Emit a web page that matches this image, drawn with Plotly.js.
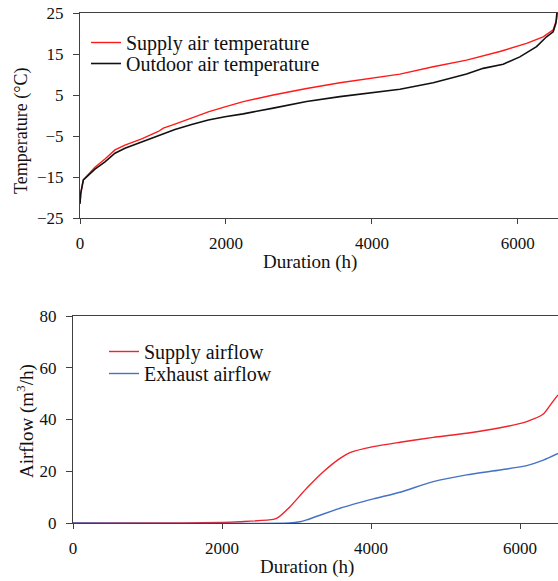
<!DOCTYPE html>
<html>
<head>
<meta charset="utf-8">
<script src="https://cdn.plot.ly/plotly-3.0.1.min.js"></script>
<style>html,body{margin:0;padding:0;background:#fff;}#chart{width:558px;height:581px;}</style>
</head>
<body>
<div id="chart"></div>
<script>
// Top panel: temperature duration curves
const outdoorHours = [0, 10, 46, 114, 205, 342, 479, 616, 845, 1073, 1301, 1530, 1758, 1986, 2237, 2648, 3105, 3562, 4018, 4384, 4840, 5297, 5525, 5799, 6027, 6256, 6393, 6484, 6521, 6535];
const outdoorTemp  = [-21.5, -19, -15.7, -14.5, -13.1, -11.3, -9.2, -8.0, -6.5, -5.0, -3.4, -2.2, -1.1, -0.3, 0.4, 1.8, 3.4, 4.6, 5.6, 6.4, 8.0, 10.1, 11.5, 12.5, 14.3, 16.8, 19.2, 20.4, 22.5, 25];
const supplyHours  = [0, 10, 46, 114, 205, 342, 479, 616, 845, 1073, 1142, 1301, 1530, 1758, 1986, 2237, 2648, 3105, 3562, 4018, 4384, 4840, 5297, 5753, 6119, 6347, 6484, 6530, 6540];
const supplyTemp   = [-21.5, -19, -15.7, -14.3, -12.6, -10.6, -8.4, -7.2, -5.7, -3.9, -3.1, -2.1, -0.5, 0.9, 2.1, 3.4, 5.0, 6.6, 8.0, 9.2, 10.1, 11.9, 13.5, 15.6, 17.6, 19.2, 20.9, 23.3, 25];

// Bottom panel: airflow duration curves
const supplyFlowHours = [0, 1500, 2000, 2242, 2689, 2756, 2913, 3136, 3360, 3584, 3718, 4031, 4389, 4836, 5284, 5732, 6090, 6313, 6425, 6510];
const supplyFlow      = [0, 0, 0.2, 0.5, 1.4, 2.2, 6.3, 13.4, 19.8, 25.0, 27.2, 29.5, 31.2, 33.1, 34.7, 36.8, 39.2, 42.1, 46.3, 49.5];
const exhaustFlowHours = [0, 2900, 3047, 3136, 3584, 4031, 4389, 4836, 5284, 5732, 6090, 6313, 6510];
const exhaustFlow      = [0, 0, 0.5, 1.2, 5.7, 9.3, 11.9, 16.0, 18.6, 20.5, 22.2, 24.3, 26.9];

const tempTicks = [-25, -15, -5, 5, 15, 25];
const flowTicks = [0, 20, 40, 60, 80];
const hourTicks = [0, 2000, 4000, 6000];

const FONT = 'Liberation Serif';
const W = 558, H = 581;
const px = v => v / W;
const py = v => 1 - v / H;

const traces = [
  {x: supplyHours, y: supplyTemp, name: 'Supply air temperature', type: 'scatter', mode: 'lines',
   line: {color: '#ff1a1a', width: 1.4}, xaxis: 'x', yaxis: 'y', legend: 'legend'},
  {x: outdoorHours, y: outdoorTemp, name: 'Outdoor air temperature', type: 'scatter', mode: 'lines',
   line: {color: '#111111', width: 1.6}, xaxis: 'x', yaxis: 'y', legend: 'legend2'},
  {x: supplyFlowHours, y: supplyFlow, name: 'Supply airflow', type: 'scatter', mode: 'lines',
   line: {color: '#f0222b', width: 1.4, shape: 'spline', smoothing: 0.6}, xaxis: 'x2', yaxis: 'y2', legend: 'legend3'},
  {x: exhaustFlowHours, y: exhaustFlow, name: 'Exhaust airflow', type: 'scatter', mode: 'lines',
   line: {color: '#4472c4', width: 1.4, shape: 'spline', smoothing: 0.6}, xaxis: 'x2', yaxis: 'y2', legend: 'legend4'}
];

function axis(extra) {
  return Object.assign({
    showgrid: false, zeroline: false, showline: true, linecolor: '#404040', linewidth: 1,
    ticks: 'outside', ticklen: 5, tickcolor: '#404040', tickwidth: 1,
    tickfont: {family: FONT, size: 17, color: '#111'}
  }, extra);
}
function legend(xp, yp) {
  return {x: px(xp), y: py(yp), xanchor: 'left', yanchor: 'top', bgcolor: 'rgba(0,0,0,0)',
    font: {family: FONT, size: 20, color: '#111'}, itemwidth: 30};
}

const layout = {
  width: W, height: H,
  margin: {l: 0, r: 0, t: 0, b: 0},
  paper_bgcolor: '#fff', plot_bgcolor: '#fff',
  showlegend: true,
  font: {family: FONT, size: 17, color: '#111'},
  xaxis: axis({domain: [px(80), 1], range: [0, 6550], tickvals: hourTicks, mirror: true, anchor: 'y', ticklabelstandoff: 5}),
  yaxis: axis({domain: [py(218), py(13)], range: [-25, 25], tickvals: tempTicks, ticklen: 6, anchor: 'x', ticklabelstandoff: 6}),
  xaxis2: axis({domain: [px(73), 1], range: [0, 6510], tickvals: hourTicks, mirror: true, anchor: 'y2', ticklabelstandoff: 5}),
  yaxis2: axis({domain: [py(523), py(316)], range: [0, 80], tickvals: flowTicks, ticklen: 6, anchor: 'x2', ticklabelstandoff: 6}),
  legend: legend(86, 23),
  legend2: legend(86, 44),
  legend3: legend(104, 332),
  legend4: legend(104, 354),
  annotations: [
    {text: 'Duration (h)', x: px(310), y: py(262), xref: 'paper', yref: 'paper', showarrow: false,
     xanchor: 'center', yanchor: 'middle', font: {family: FONT, size: 19, color: '#111'}},
    {text: 'Temperature (°C)', x: px(21), y: py(131), xref: 'paper', yref: 'paper', showarrow: false,
     textangle: -90, xanchor: 'center', yanchor: 'middle', font: {family: FONT, size: 18, color: '#111'}},
    {text: 'Duration (h)', x: px(307), y: py(567), xref: 'paper', yref: 'paper', showarrow: false,
     xanchor: 'center', yanchor: 'middle', font: {family: FONT, size: 19, color: '#111'}},
    {text: 'Airflow (m<sup>3</sup>/h)', x: px(25), y: py(421), xref: 'paper', yref: 'paper', showarrow: false,
     textangle: -90, xanchor: 'center', yanchor: 'middle', font: {family: FONT, size: 19, color: '#111'}}
  ]
};

Plotly.newPlot('chart', traces, layout, {displayModeBar: false, staticPlot: true});
</script>
</body>
</html>
